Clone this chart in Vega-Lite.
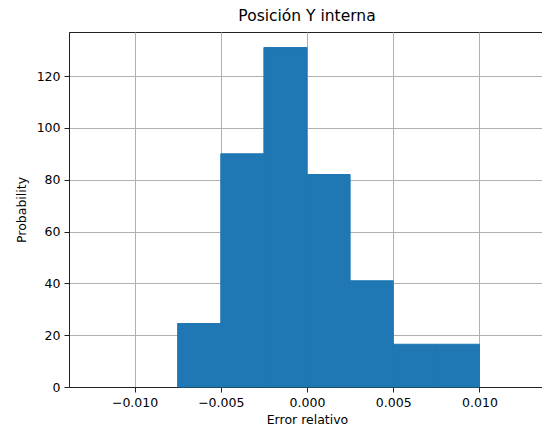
{
  "$schema": "https://vega.github.io/schema/vega-lite/v6.json",
  "autosize": {"type": "none"},
  "padding": {"left": 69, "top": 32, "right": 0, "bottom": 45},
  "width": 476,
  "height": 355,
  "background": "white",
  "title": {
    "text": "Posición Y interna",
    "font": "DejaVu Sans",
    "fontSize": 15.5,
    "fontWeight": "normal",
    "color": "#000000",
    "offset": 8
  },
  "data": {
    "values": [
      {"bin_start": -0.0075, "bin_end": -0.005, "count": 24.5},
      {"bin_start": -0.005, "bin_end": -0.0025, "count": 90},
      {"bin_start": -0.0025, "bin_end": 0.0, "count": 131},
      {"bin_start": 0.0, "bin_end": 0.0025, "count": 82},
      {"bin_start": 0.0025, "bin_end": 0.005, "count": 41},
      {"bin_start": 0.005, "bin_end": 0.0075, "count": 16.5},
      {"bin_start": 0.0075, "bin_end": 0.01, "count": 16.5}
    ]
  },
  "mark": {"type": "bar", "color": "#1f77b4", "stroke": "#1f77b4", "strokeWidth": 1, "cornerRadius": 0},
  "encoding": {
    "x": {
      "field": "bin_start",
      "type": "quantitative",
      "scale": {"domain": [-0.0138, 0.0138], "nice": false, "zero": false},
      "axis": {
        "title": "Error relativo",
        "values": [-0.01, -0.005, 0, 0.005, 0.01],
        "format": ".3f",
        "titlePadding": 5
      }
    },
    "x2": {"field": "bin_end"},
    "y": {
      "field": "count",
      "type": "quantitative",
      "scale": {"domain": [0, 137], "nice": false},
      "axis": {
        "title": "Probability",
        "values": [0, 20, 40, 60, 80, 100, 120],
        "titlePadding": 8
      }
    },
    "y2": {"datum": 0}
  },
  "config": {
    "view": {"stroke": "#222222", "strokeWidth": 1},
    "axis": {
      "zindex": 1,
      "grid": true,
      "gridColor": "#b0b0b0",
      "gridWidth": 1,
      "gridOpacity": 1,
      "domainColor": "#222222",
      "domainWidth": 1,
      "tickColor": "#222222",
      "tickSize": 5,
      "tickWidth": 1,
      "labelPadding": 4,
      "labelFont": "DejaVu Sans",
      "labelFontSize": 12.5,
      "labelColor": "#000000",
      "titleFont": "DejaVu Sans",
      "titleFontSize": 12.5,
      "titleFontWeight": "normal",
      "titleColor": "#000000",
      "labelFlush": false,
      "labelOverlap": false
    }
  }
}
